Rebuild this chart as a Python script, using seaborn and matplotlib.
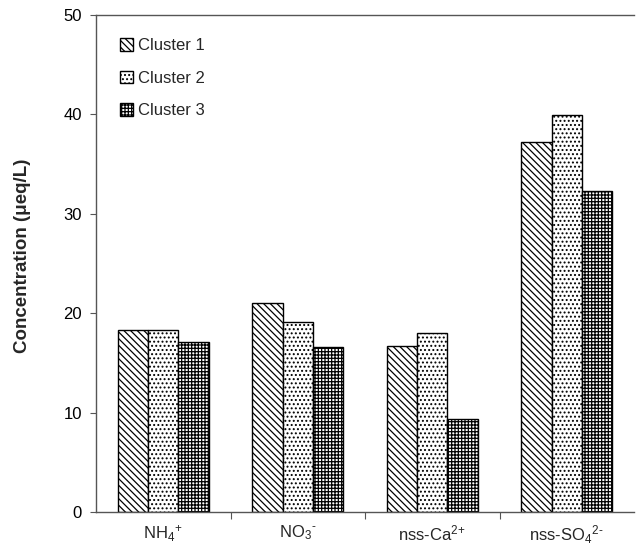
import numpy as np
import pandas as pd
import seaborn as sns
import matplotlib.pyplot as plt
from matplotlib.ticker import FixedLocator, NullFormatter

ions = ['NH$_4$$^{\\text{+}}$', 'NO$_3$$^{\\text{-}}$',
        'nss-Ca$^{\\text{2+}}$', 'nss-SO$_4$$^{\\text{2-}}$']
clusters = ['Cluster 1', 'Cluster 2', 'Cluster 3']
cluster1 = [18.3, 21.0, 16.7, 37.2]
cluster2 = [18.3, 19.1, 18.0, 39.9]
cluster3 = [17.1, 16.6, 9.4, 32.3]

df = pd.DataFrame({
    'ion': ions * 3,
    'cluster': np.repeat(clusters, len(ions)),
    'conc': cluster1 + cluster2 + cluster3,
})

sns.set_style('white')
plt.rcParams['font.family'] = ['Liberation Sans', 'DejaVu Sans']
plt.rcParams['mathtext.fontset'] = 'custom'
plt.rcParams['mathtext.rm'] = 'Liberation Sans'
plt.rcParams['mathtext.it'] = 'Liberation Sans'
plt.rcParams['hatch.linewidth'] = 0.9

fig = plt.figure(figsize=(6.38, 5.49), dpi=100)
ax = fig.add_axes([96 / 638, 37 / 549, 538 / 638, 497 / 549])

sns.barplot(data=df, x='ion', y='conc', hue='cluster', order=ions,
            hue_order=clusters, width=0.68,
            palette=['white'] * 3, edgecolor='black', linewidth=1.0,
            errorbar=None, ax=ax, legend=True)

hatches = ['\\\\\\\\\\', '....', '+++++']
for cont, h in zip(ax.containers, hatches):
    for bar in cont:
        bar.set_hatch(h)
        bar.set_edgecolor('black')

ax.set_ylim(0, 50)
ax.set_xlim(-0.5, 3.5)
ax.set_yticks([0, 10, 20, 30, 40, 50])
ax.tick_params(axis='y', which='major', left=True, length=4, width=0.8,
               colors='#555555', labelcolor='black', labelsize=12, pad=6)

# category labels centred, tick marks between categories
ax.set_xticks(range(len(ions)))
ax.set_xticklabels(ions, fontsize=12)
ax.tick_params(axis='x', which='major', bottom=False, length=0, pad=8)
ax.xaxis.set_minor_locator(FixedLocator([0.5, 1.5, 2.5]))
ax.xaxis.set_minor_formatter(NullFormatter())
ax.tick_params(axis='x', which='minor', bottom=True, length=5, width=0.8,
               color='#555555')

ax.set_xlabel('')
ax.set_ylabel('Concentration (μeq/L)', fontsize=13.5, fontweight='bold')
ax.yaxis.set_label_coords(-0.12, 0.516)

for side in ['left', 'bottom', 'top']:
    ax.spines[side].set_color('#555555')
    ax.spines[side].set_linewidth(1.0)
ax.spines['right'].set_visible(False)

leg = ax.legend(loc='upper left', frameon=False, fontsize=12,
                handlelength=0.75, handleheight=0.75, handletextpad=0.3,
                labelspacing=1.05, borderaxespad=0.4,
                bbox_to_anchor=(0.02, 0.98))
for patch, h in zip(leg.get_patches(), hatches):
    patch.set_hatch(h)
    patch.set_edgecolor('black')
    patch.set_facecolor('white')

fig.savefig('out.png', dpi=100)
